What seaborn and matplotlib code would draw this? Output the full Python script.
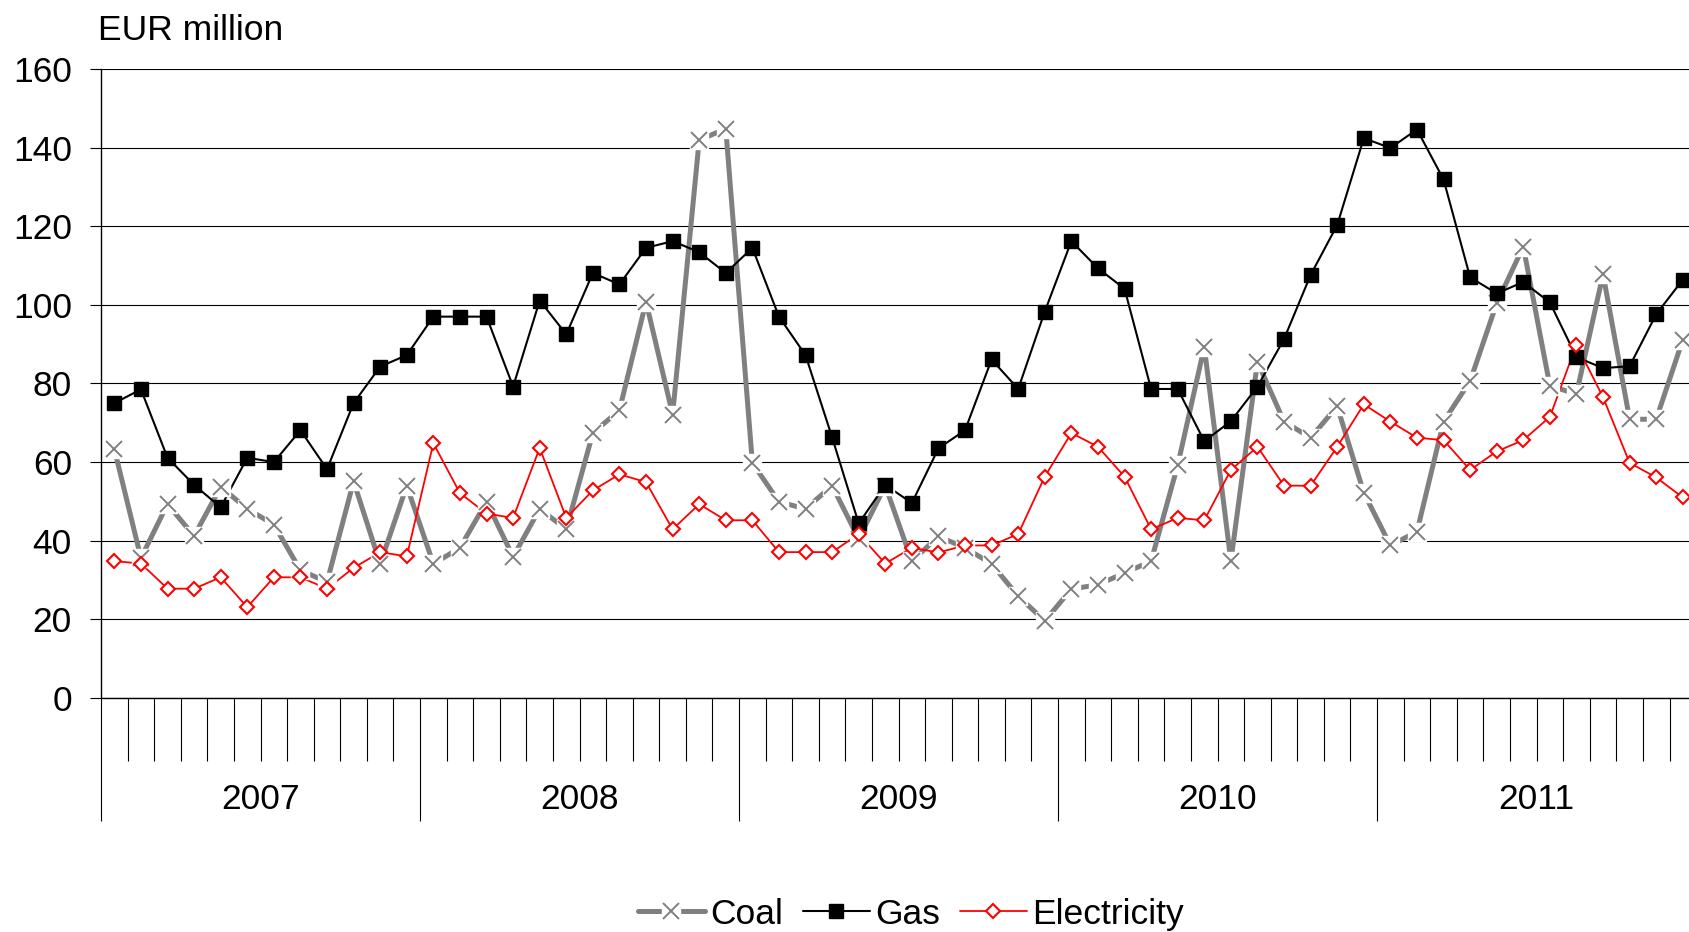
import numpy as np
import pandas as pd
import matplotlib
matplotlib.use('Agg')
import matplotlib.pyplot as plt
import matplotlib.transforms as mtransforms
from matplotlib.lines import Line2D
import seaborn as sns

# Monthly values, Jan 2007 - Dec 2011 (EUR million)
years = ['2007', '2008', '2009', '2010', '2011']

coal = [63.3, 35.6, 49.3, 41.2, 53.7, 48.1, 44.1, 32.5, 29.5, 55.1, 34.1, 54.0,
        34.1, 38.2, 49.9, 35.9, 48.1, 42.9, 67.4, 73.2, 100.8, 72.1, 141.9, 144.8,
        59.8, 49.9, 48.1, 54.0, 40.5, 54.0, 34.8, 41.1, 38.2, 34.1, 25.9, 19.6,
        27.7, 28.8, 31.8, 34.8, 59.2, 89.3, 34.8, 85.5, 70.3, 66.2, 74.2, 52.2,
        38.8, 42.3, 70.3, 80.6, 100.4, 114.8, 79.4, 77.3, 107.8, 70.9, 70.9, 91.1]

gas = [75.0, 78.5, 61.1, 54.2, 48.5, 61.1, 60.0, 68.1, 58.2, 75.0, 84.3, 87.2,
       97.0, 97.0, 97.0, 79.2, 101.1, 92.5, 108.1, 105.2, 114.5, 116.2, 113.4, 108.1,
       114.5, 97.0, 87.2, 66.3, 44.4, 54.2, 49.6, 63.5, 68.1, 86.1, 78.6, 98.3,
       116.2, 109.3, 104.1, 78.6, 78.6, 65.3, 70.4, 79.2, 91.3, 107.6, 120.3, 142.4,
       139.9, 144.6, 131.9, 107.0, 102.9, 105.8, 100.6, 86.7, 83.9, 84.4, 97.6, 106.4]

electricity = [34.8, 34.2, 27.8, 27.8, 30.7, 23.1, 30.7, 30.7, 27.8, 33.1, 37.1, 36.0,
               64.8, 52.1, 46.9, 45.8, 63.6, 45.8, 52.8, 56.9, 54.9, 42.9, 49.3, 45.2,
               45.2, 37.1, 37.1, 37.1, 41.7, 34.2, 38.2, 37.0, 38.8, 38.8, 41.7, 56.3,
               67.4, 63.9, 56.3, 42.9, 45.8, 45.2, 58.0, 63.9, 54.0, 54.0, 63.9, 74.7,
               70.3, 66.2, 65.6, 58.0, 62.7, 65.6, 71.5, 89.9, 76.5, 59.8, 56.1, 51.0]

month = np.arange(len(gas)) + 0.5
df = pd.DataFrame({'month': month, 'Coal': coal, 'Gas': gas, 'Electricity': electricity})

sns.set_style('white')
plt.rcParams['font.family'] = ['Liberation Sans', 'DejaVu Sans']
plt.rcParams['text.color'] = 'black'
plt.rcParams['ytick.labelcolor'] = 'black'

fig = plt.figure(figsize=(16.9, 9.32), dpi=100)
ax = fig.add_axes([0.0598, 0.2511, 0.9438, 0.6749])

GREY = '#808080'
RED = '#FF0000'

# lines first (like the spreadsheet renderer), markers on top
sns.lineplot(data=df, x='month', y='Coal', ax=ax, color=GREY, lw=3.6, zorder=2)
sns.lineplot(data=df, x='month', y='Gas', ax=ax, color='black', lw=1.5, zorder=2.1)
sns.lineplot(data=df, x='month', y='Electricity', ax=ax, color=RED, lw=1.3, zorder=2.2)

ax.plot(df['month'], df['Coal'], ls='none', marker='s', ms=13.5, mfc='white', mec='white', zorder=3)
ax.plot(df['month'], df['Coal'], ls='none', marker='x', ms=11, mew=1.4, color=GREY, zorder=3.1)
ax.plot(df['month'], df['Gas'], ls='none', marker='s', ms=9.8, mfc='black', mec='black', zorder=4)
ax.plot(df['month'], df['Electricity'], ls='none', marker='D', ms=7.6, mew=1.5,
        mfc='white', mec=RED, zorder=5)

ax.set_xlim(0, 60)
ax.set_ylim(0, 160)
ax.set_yticks(range(0, 161, 20))
ax.yaxis.grid(True, color='black', lw=0.8)
ax.set_axisbelow(True)
ax.set_xlabel('')
ax.set_ylabel('')

for s in ['top', 'right']:
    ax.spines[s].set_visible(False)
ax.spines['left'].set_color('black')
ax.spines['left'].set_linewidth(1.0)
ax.spines['bottom'].set_color('black')
ax.spines['bottom'].set_linewidth(1.0)

ax.set_xticks(range(0, 61, 12))
ax.set_xticklabels([])
ax.set_xticks([m for m in range(61) if m % 12], minor=True)
ax.tick_params(axis='x', which='both', bottom=True)
ax.tick_params(axis='y', left=True)
ax.tick_params(axis='x', which='major', length=88.6, width=0.8, color='black', direction='out')
ax.tick_params(axis='x', which='minor', length=45, width=0.8, color='black', direction='out')
ax.tick_params(axis='y', length=8, width=0.8, color='black', pad=13, labelsize=25.5,
               labelcolor='black', direction='out')

trans = mtransforms.blended_transform_factory(ax.transData, fig.transFigure)
for k, yr in enumerate(years):
    ax.text(6 + 12 * k, 0.1427, yr, transform=trans, ha='center', va='center', fontsize=25.5)

fig.text(0.058, 0.957, 'EUR million', ha='left', va='baseline', fontsize=25.5)

h_coal = (Line2D([], [], color=GREY, lw=3.6),
          Line2D([], [], ls='none', marker='s', ms=13.5, mfc='white', mec='white'),
          Line2D([], [], ls='none', marker='x', ms=11, mew=1.4, color=GREY))
h_gas = Line2D([], [], color='black', lw=1.5, marker='s', ms=9.8)
h_el = Line2D([], [], color=RED, lw=1.3, marker='D', ms=7.6, mew=1.5, mfc='white', mec=RED)
fig.legend([h_coal, h_gas, h_el], ['Coal', 'Gas', 'Electricity'], loc='center',
           bbox_to_anchor=(0.539, 0.0193), ncol=3, frameon=False, fontsize=25.5,
           handlelength=1.9, handletextpad=0.15, columnspacing=0.55)

fig.savefig('out.png', dpi=100)
